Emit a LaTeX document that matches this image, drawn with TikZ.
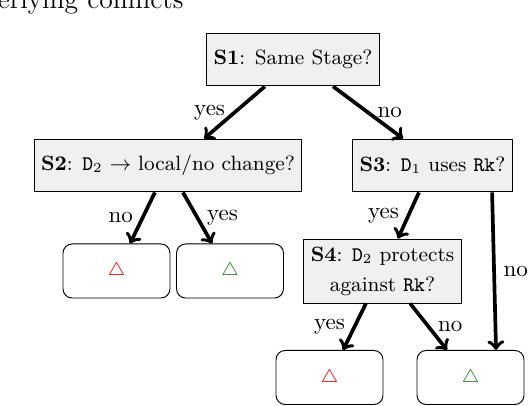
\documentclass[tikz,border=0pt]{standalone}
\usepackage{amsmath}
\usepackage{amssymb}
\usepackage{tikz}
\usepackage{xcolor}
\usetikzlibrary{positioning}
\definecolor{softgray}{RGB}{240,240,240}
\definecolor{okgreen}{RGB}{34,139,34}

\begin{document}
\begin{tikzpicture}[x=0.01528cm, y=-0.01528cm,
    qbox/.style={draw, fill=softgray, font=\small, inner xsep=3pt, minimum height=23pt, align=center},
    leafbox/.style={draw, rounded corners=4pt, minimum width=46.5pt, minimum height=23.5pt, font=\footnotesize},
    edge/.style={->, ultra thick}]
      \useasboundingbox (0,0) rectangle (530,406);
      \node[anchor=base east, font=\large, inner sep=0pt] (head) at (184,9) {erlying conflicts};
      % questions
      \node[qbox] (s1) at (293,59.5) {\textbf{S1}: Same Stage?};
      \node[qbox] (s2) at (168,165.5) {\textbf{S2}: \texttt{D}$_2$ $\rightarrow$ local/no change?};
      \node[qbox] (s3) at (432.5,165.5) {\textbf{S3}: \texttt{D}$_1$ uses \texttt{Rk}?};
      \node[qbox] (s4) at (382.5,271) {\textbf{S4}: \texttt{D}$_2$ protects\\[2pt] against \texttt{Rk}?};
      % outcomes
      \node[leafbox] (l1) at (116.5,271) {\textcolor{red}{$\triangle$}};
      \node[leafbox] (l2) at (230,271) {\textcolor{okgreen}{$\triangle$}};
      \node[leafbox] (l3) at (329.5,377.5) {\textcolor{red}{$\triangle$}};
      \node[leafbox] (l4) at (470.5,377.5) {\textcolor{okgreen}{$\triangle$}};
      % branches
      \draw[edge] ([xshift=-12.2pt]s1.south) -- node[left] {yes} ([xshift=15.7pt]s2.north);
      \draw[edge] ([xshift=17.4pt]s1.south) -- node[right] {no} ([xshift=-12.8pt]s3.north);
      \draw[edge] ([xshift=-5.7pt]s2.south) -- node[left] {no} ([xshift=5.9pt]l1.north);
      \draw[edge] ([xshift=6.5pt]s2.south) -- node[right] {yes} ([xshift=-7.8pt]l2.north);
      \draw[edge] ([xshift=-5.9pt]s3.south) -- node[left] {yes} ([xshift=6.7pt]s4.north);
      \draw[edge] ([xshift=25.9pt]s3.south) -- node[right] {no} ([xshift=11.1pt]l4.north);
      \draw[edge] ([xshift=-7.2pt]s4.south) -- node[left] {yes} ([xshift=5.9pt]l3.north);
      \draw[edge] ([xshift=12pt]s4.south) -- node[right] {no} ([xshift=-10.2pt]l4.north);
    \end{tikzpicture}
\end{document}
